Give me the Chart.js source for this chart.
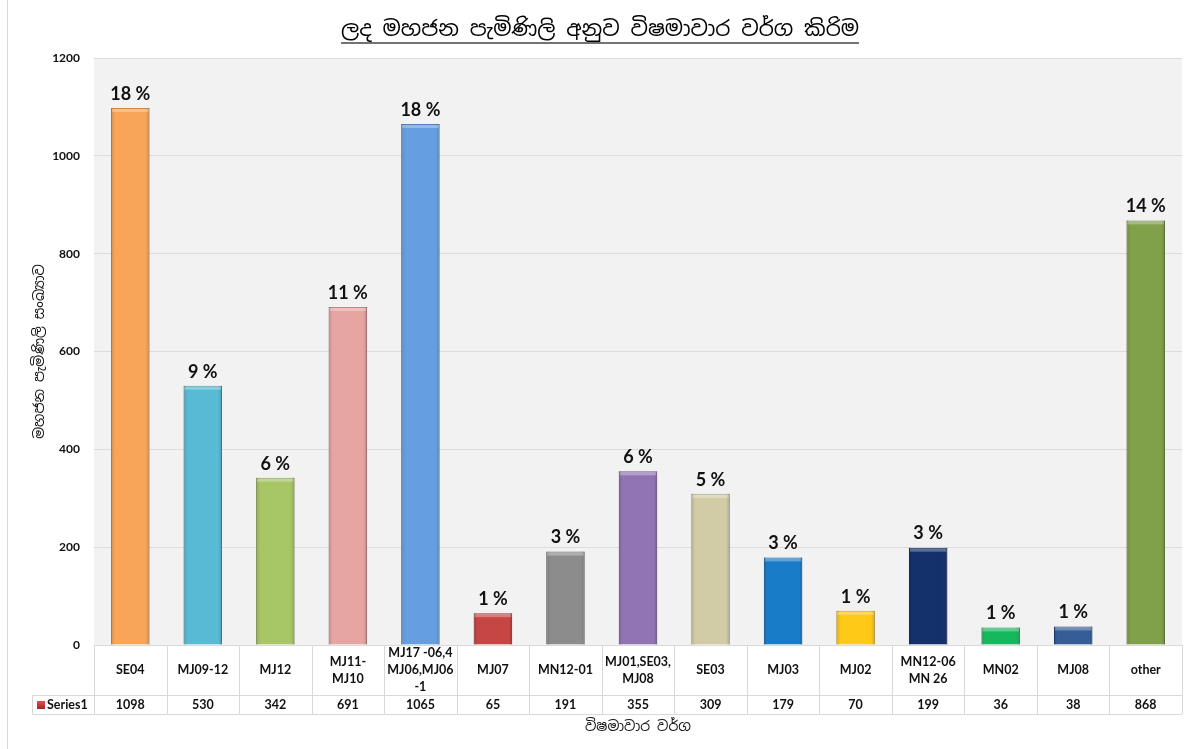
<!DOCTYPE html>
<html lang="si">
<head>
    <meta charset="UTF-8">
    <title>ලද මහජන පැමිණිලි අනුව විෂමාවාර වර්ග කිරිම</title>
    <script src="https://cdn.jsdelivr.net/npm/chart.js"></script>
    <style>
        html, body {
            margin: 0;
            padding: 0;
            background-color: #fff;
        }

        #chart-container {
            position: relative;
            width: 1194px;
            height: 749px;
        }

        canvas {
            display: block;
        }
    </style>
</head>
<body>
<div id="chart-container">
    <canvas id="misconductChart" width="1194" height="749"></canvas>
</div>

<script>
    // data
    var categories = [
        ["SE04"], ["MJ09-12"], ["MJ12"], ["MJ11-", "MJ10"], ["MJ17 -06,4", "MJ06,MJ06", "-1"],
        ["MJ07"], ["MN12-01"], ["MJ01,SE03,", "MJ08"], ["SE03"], ["MJ03"],
        ["MJ02"], ["MN12-06", "MN 26"], ["MN02"], ["MJ08"], ["other"]
    ];
    var complaints = [1098, 530, 342, 691, 1065, 65, 191, 355, 309, 179, 70, 199, 36, 38, 868];
    var percentLabels = ["18 %", "9 %", "6 %", "11 %", "18 %", "1 %", "3 %", "6 %", "5 %", "3 %", "1 %", "3 %", "1 %", "1 %", "14 %"];
    var barColors = [
        "#F99F4C", "#4FB6D3", "#A2C25C", "#E59F9C", "#5B98DF",
        "#C23A38", "#858585", "#8A6BAE", "#CFC9A0", "#0A74C6",
        "#FFC60A", "#062463", "#08B453", "#285391", "#789A3E"
    ];
    var yTickValues = [0, 200, 400, 600, 800, 1000, 1200];

    var seriesName = "Series1";
    var chartTitle = "ලද මහජන පැමිණිලි අනුව විෂමාවාර වර්ග කිරිම";
    var xTitle = "විෂමාවාර වර්ග";
    var yTitle = "මහජන පැමිණිලි සංඛ්‍යාව";

    var latin = "Lato, 'Open Sans', 'Noto Sans', sans-serif";
    var sinhala = "'Noto Sans Sinhala', 'Noto Sans', 'DejaVu Sans', sans-serif";

    function darken(hex, f) {
        var n = parseInt(hex.slice(1), 16);
        var r = Math.round(((n >> 16) & 255) * f);
        var g = Math.round(((n >> 8) & 255) * f);
        var b = Math.round((n & 255) * f);
        return "rgb(" + r + "," + g + "," + b + ")";
    }

    // gray plot background
    var plotBackground = {
        id: "plotBackground",
        beforeDraw: function (chart) {
            var a = chart.chartArea, ctx = chart.ctx;
            ctx.save();
            ctx.fillStyle = "#f2f2f2";
            ctx.fillRect(a.left, a.top, a.right - a.left, a.bottom - a.top);
            ctx.restore();
        }
    };

    // bevel look on bars + percent labels
    var barDecor = {
        id: "barDecor",
        afterDatasetsDraw: function (chart) {
            var ctx = chart.ctx;
            var meta = chart.getDatasetMeta(0);
            ctx.save();
            meta.data.forEach(function (bar, i) {
                var w = bar.width, x0 = bar.x - w / 2, top = bar.y, h = bar.base - bar.y;
                var g = ctx.createLinearGradient(x0, 0, x0 + w, 0);
                g.addColorStop(0, "rgba(0,0,0,0.18)");
                g.addColorStop(0.12, "rgba(255,255,255,0.06)");
                g.addColorStop(0.88, "rgba(255,255,255,0.06)");
                g.addColorStop(1, "rgba(0,0,0,0.22)");
                ctx.fillStyle = g;
                ctx.fillRect(x0, top, w, h);
                ctx.fillStyle = "rgba(255,255,255,0.3)";
                ctx.fillRect(x0 + 1, top + 1, w - 2, 3);

                ctx.fillStyle = "#111";
                ctx.font = "bold 18px " + latin;
                ctx.textAlign = "center";
                ctx.textBaseline = "bottom";
                ctx.fillText(percentLabels[i], bar.x, top - 5);
            });
            ctx.restore();
        }
    };

    // data table under the axis, titles
    var dataTable = {
        id: "dataTable",
        afterDraw: function (chart) {
            var ctx = chart.ctx;
            var xs = chart.scales.x;
            var a = chart.chartArea;
            var n = categories.length;
            var row1Top = a.bottom, row2Top = a.bottom + 50, row2Bottom = a.bottom + 69;
            var legendLeft = 32;

            var edges = [a.left];
            for (var i = 0; i < n - 1; i++) {
                edges.push((xs.getPixelForValue(i) + xs.getPixelForValue(i + 1)) / 2);
            }
            edges.push(a.right);

            ctx.save();
            ctx.strokeStyle = "#d9d9d9";
            ctx.lineWidth = 1;
            ctx.beginPath();
            edges.forEach(function (ex) {
                var px = Math.round(ex) + 0.5;
                ctx.moveTo(px, row1Top);
                ctx.lineTo(px, row2Bottom);
            });
            ctx.moveTo(a.left, row1Top + 0.5);
            ctx.lineTo(a.right, row1Top + 0.5);
            ctx.moveTo(legendLeft, row2Top + 0.5);
            ctx.lineTo(a.right, row2Top + 0.5);
            ctx.moveTo(legendLeft, row2Bottom + 0.5);
            ctx.lineTo(a.right, row2Bottom + 0.5);
            ctx.moveTo(legendLeft + 0.5, row2Top);
            ctx.lineTo(legendLeft + 0.5, row2Bottom);
            // outer frame line on the left
            ctx.moveTo(7.5, 0);
            ctx.lineTo(7.5, chart.height);
            ctx.stroke();

            ctx.fillStyle = "#111";
            ctx.font = "bold 12.5px " + latin;
            ctx.textAlign = "center";
            ctx.textBaseline = "middle";
            var lh = 17;
            var midRow1 = (row1Top + row2Top) / 2;
            var midRow2 = (row2Top + row2Bottom) / 2 + 0.5;
            categories.forEach(function (lines, i) {
                var cx = xs.getPixelForValue(i);
                var y0 = midRow1 - (lines.length - 1) * lh / 2;
                lines.forEach(function (t, k) {
                    ctx.fillText(t, cx, y0 + k * lh);
                });
                ctx.fillText(String(complaints[i]), cx, midRow2);
            });

            // legend key
            var kg = ctx.createLinearGradient(0, midRow2 - 4, 0, midRow2 + 4);
            kg.addColorStop(0, "#e05050");
            kg.addColorStop(1, "#a42424");
            ctx.fillStyle = kg;
            ctx.fillRect(37, midRow2 - 4, 8, 8);
            ctx.fillStyle = "#111";
            ctx.textAlign = "left";
            ctx.fillText(seriesName, 47, midRow2);

            // axis titles
            ctx.font = "14px " + sinhala;
            ctx.textAlign = "center";
            ctx.fillText(xTitle, (a.left + a.right) / 2, 727);

            ctx.save();
            ctx.translate(40, (a.top + a.bottom) / 2);
            ctx.rotate(-Math.PI / 2);
            ctx.fillText(yTitle, 0, 0);
            ctx.restore();

            // main title, underlined
            ctx.font = "21.5px " + sinhala;
            ctx.fillStyle = "#000";
            var tw = ctx.measureText(chartTitle).width;
            var tx = 600;
            ctx.fillText(chartTitle, tx, 30);
            ctx.strokeStyle = "#444";
            ctx.lineWidth = 1.5;
            ctx.beginPath();
            ctx.moveTo(tx - tw / 2, 43);
            ctx.lineTo(tx + tw / 2, 43);
            ctx.stroke();
            ctx.restore();
        }
    };

    var ctx = document.getElementById("misconductChart").getContext("2d");
    var misconductChart = new Chart(ctx, {
        type: "bar",
        data: {
            labels: categories,
            datasets: [
                {
                    label: seriesName,
                    data: complaints,
                    backgroundColor: barColors,
                    borderColor: barColors.map(function (c) { return darken(c, 0.8); }),
                    borderWidth: 1,
                    barPercentage: 0.53,
                    categoryPercentage: 1.0
                }
            ]
        },
        options: {
            responsive: false,
            animation: false,
            layout: {
                padding: { top: 58, right: 12, bottom: 0, left: 0 }
            },
            plugins: {
                legend: { display: false },
                title: { display: false },
                tooltip: { enabled: false }
            },
            scales: {
                x: {
                    ticks: { display: false },
                    grid: { display: false },
                    border: { display: false },
                    afterFit: function (scale) { scale.height = 104; }
                },
                y: {
                    min: 0,
                    max: 1200,
                    afterBuildTicks: function (scale) {
                        scale.ticks = yTickValues.map(function (v) { return { value: v }; });
                    },
                    ticks: {
                        color: "#111",
                        padding: 14,
                        font: { family: latin, size: 12, weight: "bold" },
                        callback: function (value) { return String(value); }
                    },
                    grid: { color: "#dcdcdc", drawTicks: false },
                    border: { display: false },
                    afterFit: function (scale) { scale.width = 94; }
                }
            }
        },
        plugins: [plotBackground, barDecor, dataTable]
    });
</script>
</body>
</html>
